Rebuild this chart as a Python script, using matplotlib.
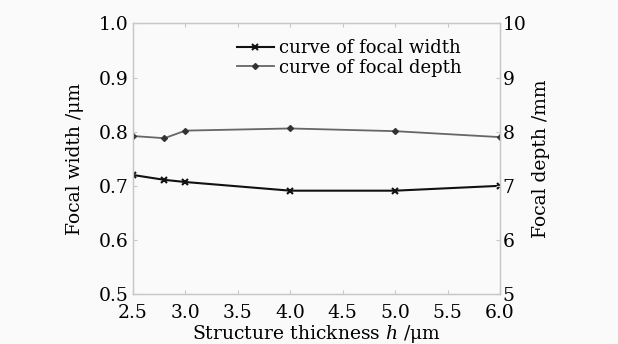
import matplotlib
matplotlib.use("Agg")
import matplotlib.pyplot as plt

# Structure thickness h (um)
thickness = [2.5, 2.8, 3.0, 4.0, 5.0, 6.0]
# Focal width (um), left axis
focal_width = [0.72, 0.711, 0.707, 0.691, 0.691, 0.700]
# Focal depth (mm), right axis
focal_depth = [7.92, 7.88, 8.02, 8.06, 8.01, 7.90]

x_ticks = [2.5, 3.0, 3.5, 4.0, 4.5, 5.0, 5.5, 6.0]
left_ticks = [0.5, 0.6, 0.7, 0.8, 0.9, 1.0]
right_ticks = [5, 6, 7, 8, 9, 10]

plt.rcParams["font.family"] = ["DejaVu Serif"]
plt.rcParams["mathtext.fontset"] = "dejavuserif"

fig = plt.figure(figsize=(6.18, 3.44), dpi=100, facecolor="#fafafa")
ax = fig.add_axes([0.2152, 0.1453, 0.809 - 0.2152, 0.9317 - 0.1453])
ax.set_facecolor("#fafafa")
ax2 = ax.twinx()

frame = "#c8c8c8"
fs = 13.5

l1, = ax.plot(thickness, focal_width, color="#111111", lw=1.5, marker="x",
              ms=5, mew=1.5, label="curve of focal width")
l2, = ax2.plot(thickness, focal_depth, color="#666666", lw=1.3, marker="D",
               ms=3, mfc="#333333", mec="#333333", label="curve of focal depth")

ax.set_xlim(2.5, 6.0)
ax.set_ylim(0.5, 1.0)
ax2.set_ylim(5, 10)
ax.set_xticks(x_ticks)
ax.set_xticklabels([f"{v:.1f}" for v in x_ticks])
ax.set_yticks(left_ticks)
ax.set_yticklabels([f"{v:.1f}" for v in left_ticks])
ax2.set_yticks(right_ticks)

for a in (ax, ax2):
    for s in a.spines.values():
        s.set_color(frame)
        s.set_linewidth(0.9)
ax.tick_params(axis="both", direction="in", length=3, color=frame,
               labelsize=fs, top=True, pad=3)
ax.tick_params(axis="x", pad=7)
ax2.tick_params(axis="y", direction="in", length=3, color=frame,
                labelsize=fs, pad=2)

ax.set_xlabel("Structure thickness $h$ /μm", fontsize=fs, labelpad=1)
ax.set_ylabel("Focal width /μm", fontsize=fs, labelpad=11)
ax2.set_ylabel("Focal depth /mm", fontsize=fs, labelpad=4)

leg = ax.legend(handles=[l1, l2], loc="upper center",
                bbox_to_anchor=(0.59, 0.97), frameon=False, fontsize=13,
                handlelength=2.0, handletextpad=0.3, labelspacing=0.1,
                borderaxespad=0)

fig.savefig("out.png", dpi=100, facecolor=fig.get_facecolor())
